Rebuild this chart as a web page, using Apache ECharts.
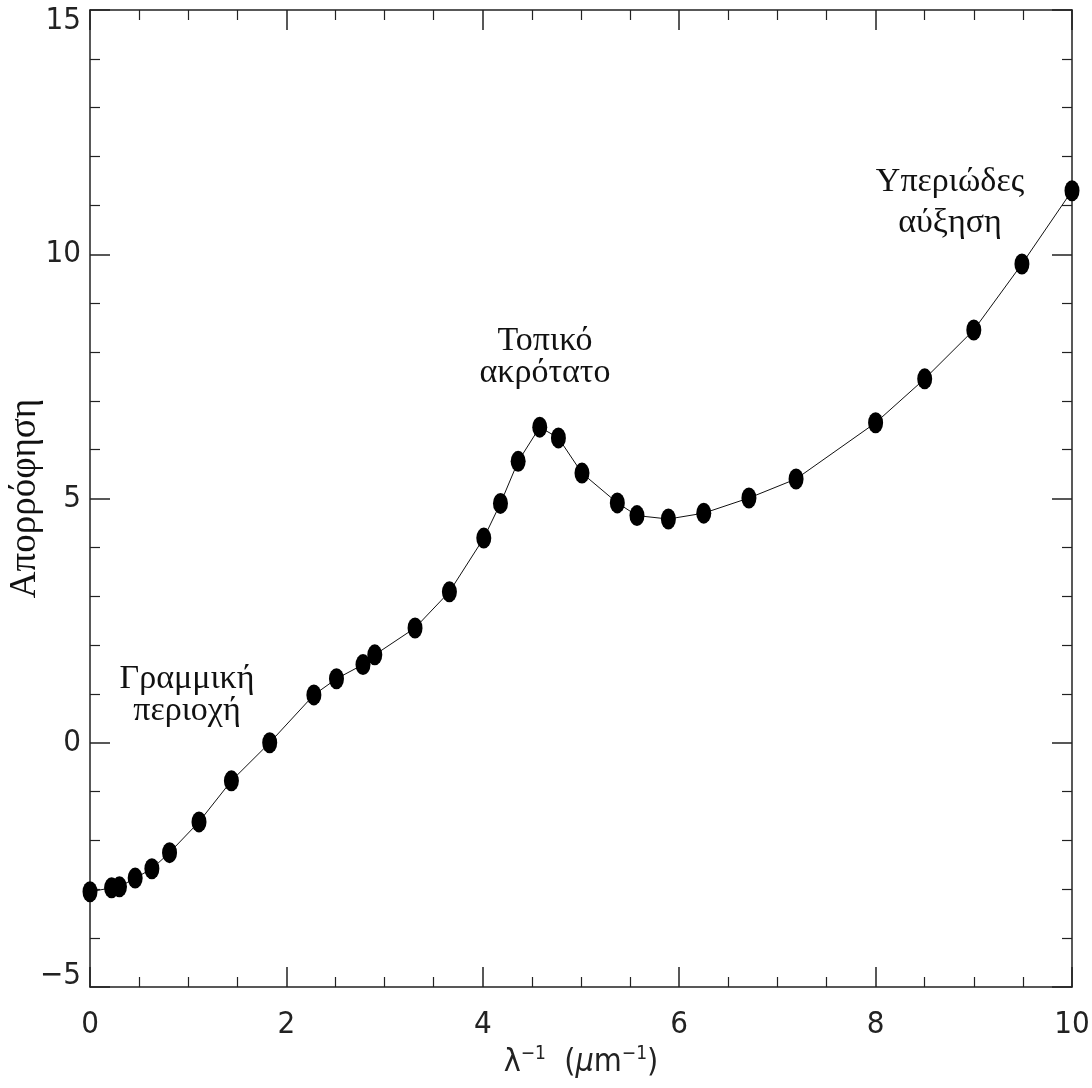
<!DOCTYPE html>
<html>
<head>
<meta charset="utf-8">
<script src="https://cdn.jsdelivr.net/npm/echarts@6/dist/echarts.min.js"></script>
<style>
html,body{margin:0;padding:0;background:#fff;}
#chart{width:1092px;height:1088px;}
</style>
</head>
<body>
<div id="chart"></div>
<script>
// wavenumber λ^-1 (μm^-1)
var waveNumber = [0, 0.22, 0.30, 0.46, 0.63, 0.81, 1.11, 1.44, 1.83, 2.28, 2.51, 2.78, 2.90, 3.31, 3.66, 4.01, 4.18, 4.36, 4.58, 4.77, 5.01, 5.37, 5.57, 5.89, 6.25, 6.71, 7.19, 8.00, 8.50, 9.00, 9.49, 10.0];
// absorption
var absorption = [-3.05, -2.97, -2.95, -2.77, -2.58, -2.25, -1.62, -0.78, 0.0, 0.98, 1.31, 1.60, 1.80, 2.35, 3.09, 4.19, 4.90, 5.76, 6.46, 6.24, 5.52, 4.91, 4.65, 4.58, 4.70, 5.01, 5.40, 6.55, 7.45, 8.45, 9.80, 11.30];
var xTicks = [0, 2, 4, 6, 8, 10];
var yTicks = [-5, 0, 5, 10, 15];
var annotationTexts = ['Γραμμική\nπεριοχή', 'Τοπικό\nακρότατο', 'Υπεριώδες\nαύξηση'];
var yAxisTitle = 'Απορρόφηση';

var sansNarrow = '"Liberation Sans Narrow", "DejaVu Sans Condensed", "Liberation Sans", sans-serif';
var serif = '"Liberation Serif", "DejaVu Serif", serif';
var axisColor = '#222';

var points = waveNumber.map(function (x, i) { return [x, absorption[i]]; });

function axisCommon() {
  return {
    type: 'value',
    axisLine: { show: true, onZero: false, lineStyle: { color: axisColor, width: 1.5 } },
    axisTick: { show: true, inside: true, length: 20, lineStyle: { color: axisColor, width: 1.5 } },
    minorTick: { show: true, length: 10, lineStyle: { color: axisColor, width: 1.2 } },
    splitLine: { show: false },
    minorSplitLine: { show: false }
  };
}

var xBase = {
  min: xTicks[0], max: xTicks[xTicks.length - 1], interval: xTicks[1] - xTicks[0]
};
var yBase = {
  min: yTicks[0], max: yTicks[yTicks.length - 1], interval: yTicks[1] - yTicks[0]
};

var xBottom = Object.assign(axisCommon(), xBase, {
  position: 'bottom',
  axisLabel: { show: true, margin: 22, fontFamily: sansNarrow, fontSize: 31, color: axisColor },
  name: '{n|λ}{s|−1}{n|  (}{m|μ}{n|m}{s|−1}{n|)}',
  nameLocation: 'middle',
  nameGap: 58,
  nameMoveOverlap: false,
  nameTextStyle: {
    rich: {
      n: { fontFamily: sansNarrow, fontSize: 32, color: axisColor },
      m: { fontFamily: sansNarrow, fontSize: 32, fontStyle: 'italic', color: axisColor },
      s: { fontFamily: sansNarrow, fontSize: 19, color: axisColor, padding: [0, 0, 16, 0] }
    }
  }
});
xBottom.minorTick.splitNumber = 4;

var xTop = Object.assign(axisCommon(), xBase, {
  position: 'top',
  axisLabel: { show: false }
});
xTop.minorTick.splitNumber = 4;

var yLeft = Object.assign(axisCommon(), yBase, {
  position: 'left',
  axisLabel: {
    show: true, margin: 9, fontFamily: sansNarrow, fontSize: 31, color: axisColor,
    formatter: function (v) {
      var s = String(v).replace('-', '−');
      if (v === yTicks[yTicks.length - 1]) return '{top|' + s + '}';
      if (v === yTicks[0]) return '{bot|' + s + '}';
      return s;
    },
    rich: {
      top: { fontFamily: sansNarrow, fontSize: 31, color: axisColor, padding: [22, 0, 0, 0] },
      bot: { fontFamily: sansNarrow, fontSize: 31, color: axisColor, padding: [0, 0, 22, 0] }
    }
  },
  name: yAxisTitle,
  nameLocation: 'middle',
  nameRotate: 90,
  nameGap: 46,
  nameMoveOverlap: false,
  nameTextStyle: { fontFamily: serif, fontSize: 37, color: '#111' }
});
yLeft.minorTick.splitNumber = 5;

var yRight = Object.assign(axisCommon(), yBase, {
  position: 'right',
  axisLabel: { show: false }
});
yRight.minorTick.splitNumber = 5;

var option = {
  backgroundColor: '#fff',
  animation: false,
  grid: { left: 90, right: 20, top: 10, bottom: 101, containLabel: false, outerBoundsMode: 'none' },
  xAxis: [xBottom, xTop],
  yAxis: [yLeft, yRight],
  series: [{
    type: 'line',
    xAxisIndex: 0,
    yAxisIndex: 0,
    data: points,
    clip: false,
    symbol: 'path://M0,-1 A1,1 0 1,1 0,1 A1,1 0 1,1 0,-1 Z',
    symbolSize: [15, 21],
    showAllSymbol: true,
    itemStyle: { color: '#000' },
    lineStyle: { color: '#111', width: 1 }
  }],
  graphic: [
    { type: 'text', x: 187, y: 663, style: { text: annotationTexts[0], fontFamily: serif, fontSize: 34, lineHeight: 32, align: 'center', verticalAlign: 'top', fill: '#111' } },
    { type: 'text', x: 545, y: 325, style: { text: annotationTexts[1], fontFamily: serif, fontSize: 34, lineHeight: 32, align: 'center', verticalAlign: 'top', fill: '#111' } },
    { type: 'text', x: 950, y: 162, style: { text: annotationTexts[2], fontFamily: serif, fontSize: 34, lineHeight: 41, align: 'center', verticalAlign: 'top', fill: '#111' } }
  ]
};

var chart = echarts.init(document.getElementById('chart'), null, { renderer: 'canvas' });
chart.setOption(option);
</script>
</body>
</html>
